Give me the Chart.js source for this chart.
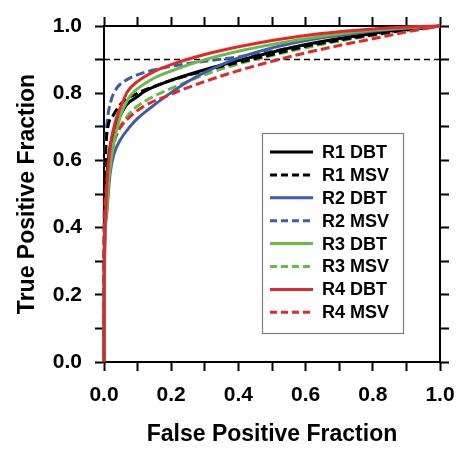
<!DOCTYPE html>
<html>
<head>
<meta charset="utf-8">
<script src="https://cdn.jsdelivr.net/npm/chart.js@4.4.1/dist/chart.umd.min.js"></script>
<style>
  html, body { margin: 0; padding: 0; background: #fff; }
  #wrap { width: 472px; height: 459px; }
</style>
</head>
<body>
<div id="wrap"><canvas id="roc" width="472" height="459"></canvas></div>
<script>
// ROC curves (false positive fraction -> true positive fraction)
const seriesNames = ['R1 DBT', 'R1 MSV', 'R2 DBT', 'R2 MSV', 'R3 DBT', 'R3 MSV', 'R4 DBT', 'R4 MSV'];

const r1DbtFpf = [0, 0.001, 0.005, 0.015, 0.03, 0.04, 0.067, 0.1, 0.12, 0.19, 0.3, 0.4, 0.5, 0.6, 0.7, 0.8, 0.9, 1];
const r1DbtTpf = [0, 0.35, 0.5, 0.62, 0.69, 0.715, 0.765, 0.79, 0.805, 0.835, 0.87, 0.897, 0.922, 0.945, 0.963, 0.978, 0.99, 1];

const r1MsvFpf = [0, 0.001, 0.004, 0.008, 0.028, 0.057, 0.1, 0.15, 0.2, 0.3, 0.4, 0.5, 0.6, 0.7, 0.8, 0.9, 1];
const r1MsvTpf = [0, 0.45, 0.6, 0.675, 0.735, 0.775, 0.8, 0.82, 0.838, 0.867, 0.892, 0.915, 0.94, 0.958, 0.974, 0.988, 1];

const r2DbtFpf = [0, 0.001, 0.008, 0.018, 0.03, 0.048, 0.077, 0.1, 0.13, 0.19, 0.25, 0.3, 0.4, 0.5, 0.6, 0.7, 0.8, 0.9, 1];
const r2DbtTpf = [0, 0.25, 0.44, 0.56, 0.62, 0.66, 0.7, 0.725, 0.75, 0.795, 0.835, 0.862, 0.905, 0.935, 0.957, 0.972, 0.984, 0.993, 1];

const r2MsvFpf = [0, 0.001, 0.002, 0.005, 0.01, 0.02, 0.038, 0.06, 0.087, 0.147, 0.2, 0.3, 0.4, 0.5, 0.6, 0.7, 0.8, 0.9, 1];
const r2MsvTpf = [0, 0.4, 0.55, 0.65, 0.72, 0.775, 0.815, 0.835, 0.85, 0.869, 0.88, 0.895, 0.908, 0.925, 0.943, 0.96, 0.976, 0.99, 1];

const r3DbtFpf = [0, 0.001, 0.008, 0.015, 0.028, 0.048, 0.07, 0.09, 0.14, 0.2, 0.3, 0.4, 0.5, 0.6, 0.7, 0.8, 0.9, 1];
const r3DbtTpf = [0, 0.3, 0.45, 0.55, 0.645, 0.73, 0.78, 0.805, 0.84, 0.866, 0.9, 0.925, 0.945, 0.962, 0.976, 0.987, 0.995, 1];

const r3MsvFpf = [0, 0.001, 0.01, 0.02, 0.038, 0.077, 0.1, 0.137, 0.19, 0.3, 0.4, 0.5, 0.6, 0.7, 0.8, 0.9, 1];
const r3MsvTpf = [0, 0.3, 0.5, 0.6, 0.676, 0.741, 0.762, 0.785, 0.81, 0.855, 0.887, 0.912, 0.935, 0.955, 0.972, 0.987, 1];

const r4DbtFpf = [0, 0.001, 0.005, 0.01, 0.02, 0.035, 0.05, 0.07, 0.1, 0.15, 0.2, 0.3, 0.4, 0.5, 0.6, 0.7, 0.8, 0.9, 1];
const r4DbtTpf = [0, 0.3, 0.45, 0.55, 0.65, 0.72, 0.76, 0.805, 0.835, 0.865, 0.885, 0.915, 0.938, 0.957, 0.972, 0.983, 0.991, 0.997, 1];

const r4MsvFpf = [0, 0.001, 0.005, 0.015, 0.03, 0.05, 0.077, 0.117, 0.19, 0.3, 0.4, 0.5, 0.6, 0.7, 0.8, 0.9, 1];
const r4MsvTpf = [0, 0.35, 0.5, 0.6, 0.66, 0.7, 0.73, 0.76, 0.793, 0.835, 0.867, 0.895, 0.92, 0.942, 0.962, 0.982, 1];

const refFpf = [0, 1];
const refTpf = [0.9, 0.9];

const tickValues = [0, 0.2, 0.4, 0.6, 0.8, 1.0];

const BLACK = '#000000';
const BLUE = '#3d5dab';
const GREEN = '#67bc45';
const RED = '#e5262a';
const FONT = '"Liberation Sans", Arial, sans-serif';

function pts(xs, ys) {
  return xs.map((x, i) => ({ x: x, y: ys[i] }));
}

function curve(label, xs, ys, color, dashed, order) {
  return {
    label: label,
    data: pts(xs, ys),
    borderColor: color,
    backgroundColor: color,
    borderWidth: 3,
    borderDash: dashed ? [9, 4] : [],
    pointRadius: 0,
    cubicInterpolationMode: 'monotone',
    fill: false,
    clip: false,
    order: order
  };
}

const datasets = [
  curve(seriesNames[0], r1DbtFpf, r1DbtTpf, BLACK, false, 4),
  curve(seriesNames[1], r1MsvFpf, r1MsvTpf, BLACK, true, 5),
  curve(seriesNames[2], r2DbtFpf, r2DbtTpf, BLUE, false, 3),
  curve(seriesNames[3], r2MsvFpf, r2MsvTpf, BLUE, true, 6),
  curve(seriesNames[4], r3DbtFpf, r3DbtTpf, GREEN, false, 1),
  curve(seriesNames[5], r3MsvFpf, r3MsvTpf, GREEN, true, 7),
  curve(seriesNames[6], r4DbtFpf, r4DbtTpf, RED, false, 0),
  curve(seriesNames[7], r4MsvFpf, r4MsvTpf, RED, true, 2),
  {
    label: 'ref',
    data: pts(refFpf, refTpf),
    borderColor: BLACK,
    borderWidth: 1.5,
    borderDash: [6, 4],
    pointRadius: 0,
    fill: false,
    order: 10
  }
];

function tickLabel(value) {
  const v = Math.round(value * 10) / 10;
  return tickValues.some(t => Math.abs(t - v) < 1e-6) ? v.toFixed(1) : '';
}

function axis(position, showLabels, title, size) {
  const horizontal = position === 'bottom' || position === 'top';
  return {
    type: 'linear',
    position: position,
    min: 0,
    max: 1,
    afterFit: function (scale) {
      if (horizontal) scale.height = size; else scale.width = size;
    },
    ticks: {
      stepSize: 0.1,
      autoSkip: false,
      maxRotation: 0,
      color: showLabels ? BLACK : 'rgba(0,0,0,0)',
      font: { family: FONT, size: 21, weight: 'bold' },
      padding: horizontal ? 12 : 13,
      callback: showLabels ? tickLabel : () => ''
    },
    grid: {
      drawOnChartArea: false,
      drawTicks: true,
      tickLength: 9,
      tickColor: BLACK,
      tickWidth: 2
    },
    border: { display: true, color: BLACK, width: 2 },
    title: {
      display: !!title,
      text: title || '',
      color: BLACK,
      font: { family: FONT, size: 23, weight: 'bold' },
      padding: horizontal ? { top: 0, bottom: 11 } : { top: 14, bottom: 0 }
    }
  };
}

// boxed legend inside the plot, bottom right
const boxLegend = {
  id: 'boxLegend',
  afterDraw(chart) {
    const ctx = chart.ctx;
    const area = chart.chartArea;
    const left = area.left + 158;
    const top = area.top + 107;
    const w = 141, h = 200;
    ctx.save();
    ctx.fillStyle = '#ffffff';
    ctx.fillRect(left, top, w, h);
    ctx.strokeStyle = '#7f7f7f';
    ctx.lineWidth = 1.2;
    ctx.strokeRect(left + 0.5, top + 0.5, w, h);
    ctx.font = 'bold 18px ' + FONT;
    ctx.textBaseline = 'middle';
    ctx.fillStyle = BLACK;
    for (let i = 0; i < seriesNames.length; i++) {
      const ds = chart.data.datasets[i];
      const y = top + 19 + i * 22.9;
      ctx.beginPath();
      ctx.strokeStyle = ds.borderColor;
      ctx.lineWidth = 3;
      ctx.setLineDash(ds.borderDash.length ? [7, 4] : []);
      ctx.moveTo(left + 8, y);
      ctx.lineTo(left + 51, y);
      ctx.stroke();
      ctx.setLineDash([]);
      ctx.fillText(seriesNames[i], left + 60, y + 1);
    }
    ctx.restore();
  }
};

new Chart(document.getElementById('roc'), {
  type: 'line',
  data: { datasets: datasets },
  options: {
    responsive: false,
    animation: false,
    devicePixelRatio: 1,
    layout: { padding: 0 },
    plugins: {
      legend: { display: false },
      tooltip: { enabled: false }
    },
    scales: {
      x: axis('bottom', true, 'False Positive Fraction', 97),
      x2: axis('top', false, null, 26),
      y: axis('left', true, 'True Positive Fraction', 104),
      y2: axis('right', false, null, 32)
    }
  },
  plugins: [boxLegend]
});
</script>
</body>
</html>
